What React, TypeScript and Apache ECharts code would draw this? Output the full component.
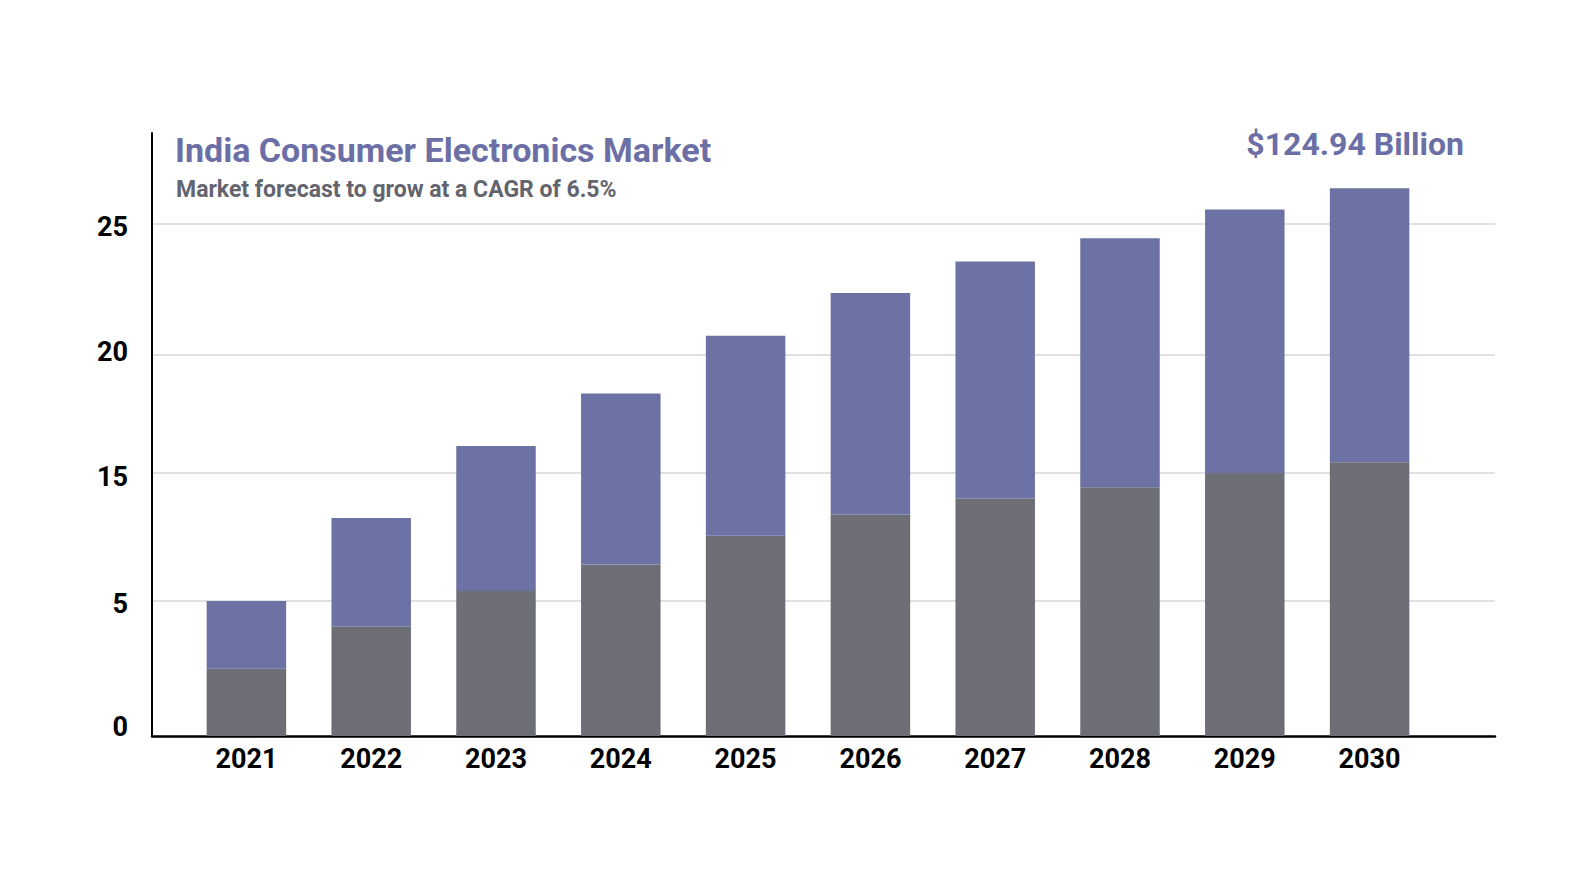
import React, { useEffect, useRef } from "react";
import * as echarts from "echarts";

// years on the x axis
const years = ["2021", "2022", "2023", "2024", "2025", "2026", "2027", "2028", "2029", "2030"];

// lower (grey) and upper (purple) parts of each stacked bar, in axis units
const lowerValues = [3.35, 5.43, 7.22, 8.53, 9.96, 11.02, 11.82, 12.38, 13.09, 13.62];
const upperValues = [3.37, 5.42, 7.21, 8.51, 9.95, 11.02, 11.79, 12.38, 13.11, 13.63];

// y axis: labels as printed, where the labels sit and where the grid lines sit
const yTickLabels = ["0", "5", "15", "20", "25"];
const yLabelValues = [0.47, 6.57, 12.89, 19.1, 25.3];
const yGridValues = [6.72, 13.1, 18.95, 25.5];

const Y_MAX = 30;
const labelFont = { color: "#000000", fontSize: 27, fontWeight: "bold", fontFamily: "Roboto" };

const App: React.FC = () => {
  const chartRef = useRef<HTMLDivElement>(null);

  useEffect(() => {
    const chart = echarts.init(chartRef.current!, null, { renderer: "svg" });

    chart.setOption({
      animation: false,
      backgroundColor: "#ffffff",
      textStyle: { fontFamily: "Roboto" },
      title: [
        {
          text: "India Consumer Electronics Market",
          left: 175,
          top: 133,
          padding: 0,
          textStyle: { color: "#6b6fa6", fontSize: 34, fontWeight: "bold", fontFamily: "Roboto" },
        },
        {
          text: "Market forecast to grow at a CAGR of 6.5%",
          left: 176,
          top: 178,
          padding: 0,
          textStyle: { color: "#64646e", fontSize: 23, fontWeight: "bold", fontFamily: "Roboto" },
        },
        {
          text: "$124.94 Billion",
          right: 106,
          top: 128,
          padding: 0,
          textStyle: { color: "#6b6fa6", fontSize: 32, fontWeight: "bold", fontFamily: "Roboto" },
        },
      ],
      // grid 0: axis lines, grid lines and y labels; grid 1: the bars and the year labels
      grid: [
        { left: 152, right: 75, top: 133, bottom: 144 },
        { left: 184, right: 138, top: 133, bottom: 144 },
      ],
      xAxis: [
        {
          type: "value",
          gridIndex: 0,
          min: 0,
          max: 1,
          axisLine: { show: true, onZero: false, lineStyle: { color: "#000000", width: 2.5 } },
          axisTick: { show: false },
          splitLine: { show: false },
          axisLabel: { show: false },
        },
        {
          type: "category",
          gridIndex: 1,
          data: years,
          axisLine: { show: false },
          axisTick: { show: false },
          axisLabel: { margin: 9, ...labelFont },
        },
      ],
      yAxis: [
        {
          type: "value",
          gridIndex: 0,
          min: 0,
          max: Y_MAX,
          axisLine: { show: true, onZero: false, lineStyle: { color: "#000000", width: 2 } },
          axisTick: { show: false, customValues: yGridValues },
          splitLine: { show: true, lineStyle: { color: "#e1e1e1", width: 2 } },
          axisLabel: {
            customValues: yLabelValues,
            margin: 24,
            ...labelFont,
            formatter: (v: number) => {
              let best = 0;
              yLabelValues.forEach((lv, i) => {
                if (Math.abs(lv - v) < Math.abs(yLabelValues[best] - v)) best = i;
              });
              return yTickLabels[best];
            },
          },
        },
        {
          type: "value",
          gridIndex: 1,
          min: 0,
          max: Y_MAX,
          show: false,
        },
      ],
      series: [
        {
          name: "lower",
          type: "bar",
          xAxisIndex: 1,
          yAxisIndex: 1,
          stack: "total",
          barWidth: 79.5,
          data: lowerValues,
          itemStyle: { color: "#6e6e76" },
        },
        {
          name: "upper",
          type: "bar",
          xAxisIndex: 1,
          yAxisIndex: 1,
          stack: "total",
          barWidth: 79.5,
          data: upperValues,
          itemStyle: { color: "#6d72a5" },
        },
      ],
    });

    return () => {
      chart.dispose();
    };
  }, []);

  return (
    <div
      ref={chartRef}
      style={{ position: "fixed", left: 0, top: 0, width: 1570, height: 880 }}
    />
  );
};

export default App;
